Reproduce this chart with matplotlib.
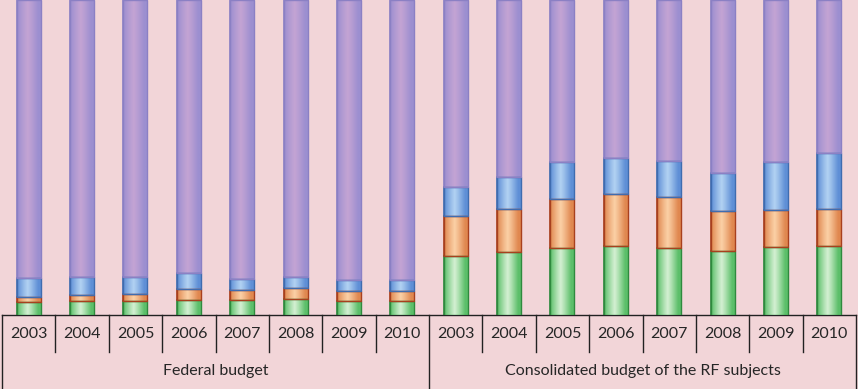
import numpy as np
import matplotlib.pyplot as plt
from matplotlib.colors import LinearSegmentedColormap

# Данные (доли, %)
years = ['2003', '2004', '2005', '2006', '2007', '2008', '2009', '2010']
groups = ['Federal budget', 'Consolidated budget of the RF subjects']

fed_green = [4.2, 4.3, 4.3, 4.9, 4.8, 5.0, 4.3, 4.3]
fed_orange = [1.4, 2.0, 2.5, 3.3, 3.0, 3.5, 3.4, 3.4]
fed_blue = [6.0, 5.8, 5.3, 5.1, 3.7, 3.7, 3.4, 3.4]

reg_green = [18.8, 19.9, 21.4, 21.9, 21.4, 20.3, 21.5, 21.9]
reg_orange = [12.7, 13.7, 15.5, 16.4, 16.1, 12.8, 11.8, 11.7]
reg_blue = [9.2, 10.2, 11.6, 11.6, 11.4, 12.1, 15.3, 17.9]

green = np.array(fed_green + reg_green)
orange = np.array(fed_orange + reg_orange)
blue = np.array(fed_blue + reg_blue)
purple = 100 - green - orange - blue

# Цвета: (тёмный край, светлый центр, обводка)
styles = [
    ('#5cbf6a', '#d4f0d2', '#2f8a3e'),
    ('#e08850', '#fbd0a6', '#a8401e'),
    ('#5f8fd6', '#b2d2f2', '#3f6cb0'),
    ('#9c8fd0', '#c4a4d4', '#8b80c4'),
]
series = [green, orange, blue, purple]

bg = '#f2d5d8'
fig = plt.figure(figsize=(8.58, 3.89), dpi=100)
fig.patch.set_facecolor(bg)
ax = fig.add_axes([2 / 858, 74 / 389, 854 / 858, 315 / 389])
ax.set_facecolor(bg)

x = np.arange(len(green))
bottom = np.zeros(len(green))
w = 0.45
grad = np.array([[0.0, 0.35, 0.7, 1.0, 0.7, 0.35, 0.0, 0.0]])
grad = np.interp(np.linspace(0, 1, 64), np.linspace(0, 1, 8), grad[0])[None, :]
for vals, (dark, light, edge) in zip(series, styles):
    cmap = LinearSegmentedColormap.from_list('c', [dark, light])
    bars = ax.bar(x, vals, w, bottom=bottom, color=dark, edgecolor=edge, linewidth=1.2, zorder=2)
    for b in bars:
        x0, y0 = b.get_x(), b.get_y()
        im = ax.imshow(grad, cmap=cmap, aspect='auto', zorder=2.5,
                       extent=(x0, x0 + b.get_width(), y0, y0 + b.get_height()))
        im.set_clip_path(b)
        ax.bar(b.get_x() + b.get_width() / 2, b.get_height(), b.get_width(), bottom=y0,
               fill=False, edgecolor=edge, linewidth=1.0, zorder=3)
    bottom += vals

ax.set_xlim(-0.5, len(green) - 0.5)
ax.set_ylim(0, 100)
ax.set_xticks([])
ax.set_yticks([])
for s in ax.spines.values():
    s.set_visible(False)

# Таблица подписей под осью
line_kw = dict(color='#222222', lw=1.0, clip_on=False, transform=ax.transData)
y_row = -37 / 3.15
y_bot = -74 / 3.15
ax.plot([-0.5, len(green) - 0.5], [0, 0], **line_kw)
ax.plot([-0.5, -0.5], [0, y_bot], **line_kw)
ax.plot([len(green) - 0.5] * 2, [0, y_bot], **line_kw)
for i in range(1, len(green)):
    ylow = y_bot if i == len(years) else y_row
    ax.plot([i - 0.5, i - 0.5], [0, ylow], **line_kw)

txt_kw = dict(family='Lato', fontsize=11.5, color='#262626', ha='center', va='center', clip_on=False)
for i in range(len(green)):
    ax.text(i, y_row / 2, years[i % len(years)], **txt_kw)
for g, name in enumerate(groups):
    ax.text(g * len(years) + (len(years) - 1) / 2, (y_row + y_bot) / 2, name, **txt_kw)

fig.savefig('out.png', dpi=100, facecolor=bg)
